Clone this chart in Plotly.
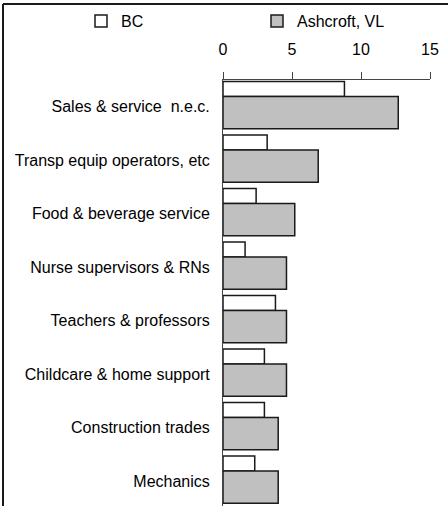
import plotly.graph_objects as go

# ---- data ----
categories = [
    "Sales & service \u00a0n.e.c.",
    "Transp equip operators, etc",
    "Food & beverage service",
    "Nurse supervisors & RNs",
    "Teachers & professors",
    "Childcare & home support",
    "Construction trades",
    "Mechanics",
]
bc_values = [8.8, 3.2, 2.4, 1.6, 3.8, 3.0, 3.0, 2.3]
ashcroft_values = [12.7, 6.9, 5.2, 4.6, 4.6, 4.6, 4.0, 4.0]
x_ticks = [0, 5, 10, 15]
series_names = ["BC", "Ashcroft, VL"]

W, H = 448, 506
# plot area in pixels
PX0, PX1 = 223, 430
PY0, PY1 = 80, 506


def fx(p):
    return p / W


def fy(p):
    return 1 - p / H


FONT = "Liberation Sans, Arial, sans-serif"
LINE = "#1a1a1a"

fig = go.Figure()
fig.add_trace(go.Bar(
    y=categories, x=bc_values, orientation="h", name=series_names[0],
    width=0.28, offset=-0.47, legend="legend",
    marker=dict(color="white", line=dict(color=LINE, width=1.5)),
))
fig.add_trace(go.Bar(
    y=categories, x=ashcroft_values, orientation="h", name=series_names[1],
    width=0.60, offset=-0.19, legend="legend2",
    marker=dict(color="#c0c0c0", line=dict(color=LINE, width=1.5)),
))

legend_common = dict(orientation="h", xanchor="left", yanchor="middle",
                     font=dict(size=16, family=FONT, color="#000"),
                     bgcolor="rgba(0,0,0,0)", borderwidth=0)

fig.update_layout(
    width=W, height=H,
    margin=dict(l=0, r=0, t=0, b=0, pad=0, autoexpand=False),
    paper_bgcolor="white", plot_bgcolor="white",
    barmode="overlay",
    font=dict(family=FONT, size=16, color="#000000"),
    showlegend=True,
    legend=dict(x=fx(81), y=fy(21), **legend_common),
    legend2=dict(x=fx(257), y=fy(21), **legend_common),
    xaxis=dict(domain=[fx(PX0), fx(PX1)], range=[0, 15], side="top",
               tickvals=x_ticks, ticks="outside", ticklen=7, tickcolor="#444",
               tickwidth=1, showline=True, linecolor="#444", linewidth=1,
               showgrid=False, zeroline=False, fixedrange=True,
               ticklabelstandoff=11, tickfont=dict(size=16, family=FONT)),
    yaxis=dict(domain=[fy(PY1), fy(PY0)], type="category",
               categoryorder="array", categoryarray=categories,
               range=[7.463, -0.5], showline=True, linecolor="#444", linewidth=1,
               showgrid=False, zeroline=False, ticks="", ticklabelstandoff=9,
               tickfont=dict(size=16, family=FONT), fixedrange=True),
    shapes=[
        dict(type="line", xref="paper", yref="paper",
             x0=fx(3), x1=fx(460), y0=fy(4), y1=fy(4),
             line=dict(color=LINE, width=2)),
        dict(type="line", xref="paper", yref="paper",
             x0=fx(3), x1=fx(3), y0=fy(4), y1=fy(520),
             line=dict(color=LINE, width=2)),
    ],
)

fig.write_html(
    "out.html",
    config={"displayModeBar": False},
    post_script="document.body.style.margin='0px';document.body.style.overflow='hidden';",
)
